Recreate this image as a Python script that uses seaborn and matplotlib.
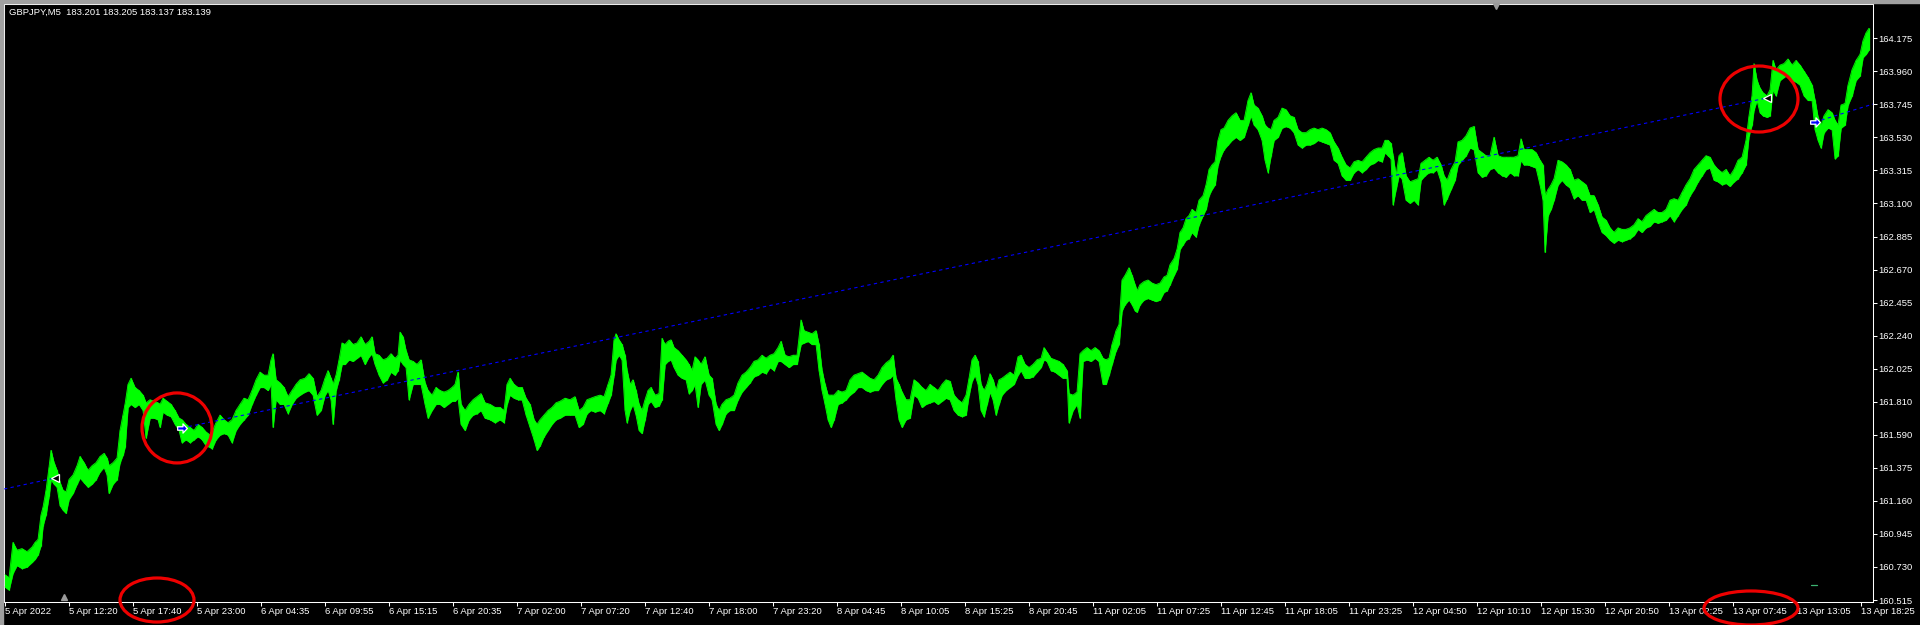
import numpy as np
import matplotlib
matplotlib.use('Agg')
import matplotlib.pyplot as plt
import seaborn as sns
from matplotlib.patches import Ellipse, Rectangle
from matplotlib.lines import Line2D
from matplotlib.path import Path

# --- data (bar index = 5-minute bar, prices GBPJPY) ---
bar_idx = [
    0, 4, 8, 12, 17, 22, 27, 30, 33, 36,
    38, 41, 44, 46, 49, 52, 55, 58, 61, 64,
    68, 72, 75, 79, 83, 87, 91, 95, 99, 102,
    104, 108, 112, 115, 118, 120, 123, 126, 130, 134,
    138, 141, 145, 149, 153, 155, 158, 162, 166, 170,
    174, 177, 181, 185, 189, 193, 197, 201, 205, 207,
    211, 215, 219, 223, 227, 231, 235, 239, 243, 247,
    251, 255, 259, 263, 266, 268, 271, 275, 279, 283,
    287, 291, 295, 300, 304, 308, 312, 316, 320, 323,
    326, 328, 331, 334, 337, 340, 344, 348, 352, 356,
    360, 364, 367, 370, 374, 378, 382, 386, 390, 393,
    395, 398, 401, 404, 408, 412, 416, 420, 423, 427,
    431, 435, 439, 443, 447, 450, 453, 456, 460, 464,
    468, 472, 476, 480, 485, 490, 495, 499, 502, 505,
    509, 513, 517, 521, 525, 529, 532, 535, 539, 543,
    547, 551, 555, 560, 565, 570, 574, 578, 582, 586,
    590, 595, 599, 603, 606, 609, 611, 614, 617, 620,
    622, 625, 628, 631, 634, 637, 640, 643, 646, 650,
    654, 657, 660, 663, 666, 669, 673, 677, 681, 684,
    687, 690, 693, 696, 700, 704, 707, 711, 714, 717,
    721, 725, 729, 733, 737, 741, 745, 749, 753, 757,
    761, 765, 769, 773, 776, 780, 784, 788, 792, 796,
    799, 803, 807, 811, 814, 817, 820, 823, 826, 829,
    833, 837, 841, 845, 849, 853, 857, 861, 865, 869,
    873, 877, 881, 885, 888, 891, 894, 897, 901, 905,
    909, 913, 917, 921, 925, 929, 933, 937, 941, 945,
    949, 953, 957, 961, 964, 967, 970, 973, 976, 979,
    982, 985, 988, 991, 994, 997, 1001, 1005, 1009, 1013,
    1016, 1020, 1024, 1028, 1032, 1036, 1039, 1042, 1046, 1050,
    1054, 1058, 1062, 1064, 1068, 1072, 1075, 1078, 1082, 1086,
    1090, 1094, 1098, 1101, 1104, 1107, 1111, 1114, 1117, 1120,
    1124, 1127, 1130, 1132, 1135, 1139, 1143, 1147, 1151, 1155,
    1159, 1162, 1165, 1169, 1172, 1175, 1178, 1181, 1184, 1187,
    1191, 1194, 1198, 1201, 1204, 1207, 1210, 1213, 1216, 1219,
    1223, 1227, 1231, 1235, 1239, 1243, 1246, 1249, 1253, 1257,
    1260, 1263, 1266, 1269, 1273, 1277, 1281, 1285, 1289, 1293,
    1297, 1301, 1305, 1309, 1313, 1317, 1321, 1325, 1329, 1333,
    1337, 1341, 1345, 1349, 1353, 1357, 1361, 1365, 1369, 1373,
    1377, 1380, 1383, 1386, 1388, 1391, 1394, 1397, 1401, 1405,
    1409, 1413, 1416, 1420, 1424, 1428, 1432, 1436, 1439, 1442,
    1446, 1450, 1453, 1457, 1461, 1465, 1469, 1473, 1477, 1481,
    1485, 1489, 1493, 1497, 1501, 1505, 1509, 1513, 1516, 1519,
    1523, 1527, 1531, 1535, 1538, 1540, 1543, 1546, 1549, 1553,
    1557, 1561, 1565, 1569, 1573, 1577, 1581, 1585, 1589, 1593,
    1597, 1601, 1605, 1609, 1613, 1617, 1621, 1625, 1629, 1633,
    1637, 1641, 1645, 1649, 1653, 1657, 1661, 1665, 1669, 1673,
    1677, 1681, 1685, 1689, 1693, 1697, 1701, 1705, 1709, 1713,
    1717, 1721, 1725, 1729, 1733, 1737, 1741, 1744, 1747, 1749,
    1752, 1755, 1758, 1762, 1765, 1768, 1771, 1775, 1779, 1783,
    1787, 1791, 1795, 1799, 1803, 1807, 1810, 1813, 1816, 1819,
    1823, 1827, 1830, 1833, 1836, 1840, 1843, 1847, 1851, 1855,
    1858, 1861, 1864,
]

bar_high = [
    160.68, 160.66, 160.89, 160.84, 160.85, 160.83, 160.86, 160.89, 160.91, 161.07,
    161.12, 161.23, 161.38, 161.49, 161.41, 161.36, 161.28, 161.23, 161.22, 161.30,
    161.33, 161.39, 161.45, 161.41, 161.36, 161.39, 161.41, 161.45, 161.47, 161.44,
    161.39, 161.41, 161.44, 161.62, 161.72, 161.79, 161.92, 161.96, 161.90, 161.88,
    161.85, 161.80, 161.82, 161.81, 161.80, 161.79, 161.83, 161.81, 161.79, 161.75,
    161.70, 161.69, 161.66, 161.64, 161.62, 161.66, 161.64, 161.61, 161.59, 161.61,
    161.67, 161.72, 161.69, 161.67, 161.69, 161.75, 161.79, 161.83, 161.82, 161.88,
    161.95, 162.00, 161.98, 161.98, 162.08, 162.12, 161.95, 161.93, 161.90, 161.84,
    161.88, 161.92, 161.95, 161.96, 161.99, 161.96, 161.84, 161.88, 161.96, 162.01,
    161.96, 161.92, 161.98, 162.08, 162.19, 162.18, 162.21, 162.18, 162.19, 162.23,
    162.18, 162.20, 162.23, 162.12, 162.11, 162.08, 162.09, 162.12, 162.09, 162.11,
    162.26, 162.23, 162.14, 162.08, 162.07, 162.05, 162.08, 161.93, 161.88, 161.85,
    161.90, 161.88, 161.87, 161.88, 161.90, 161.92, 162.00, 161.79, 161.75, 161.79,
    161.82, 161.84, 161.86, 161.80, 161.79, 161.77, 161.77, 161.75, 161.92, 161.96,
    161.92, 161.90, 161.90, 161.83, 161.79, 161.69, 161.66, 161.69, 161.72, 161.75,
    161.77, 161.80, 161.81, 161.83, 161.82, 161.84, 161.75, 161.77, 161.82, 161.83,
    161.84, 161.85, 161.84, 161.92, 161.98, 162.21, 162.25, 162.21, 162.18, 162.11,
    162.01, 161.92, 161.95, 161.88, 161.79, 161.75, 161.82, 161.88, 161.90, 161.85,
    161.86, 162.22, 162.18, 162.20, 162.21, 162.16, 162.14, 162.11, 162.08, 162.05,
    162.01, 162.10, 162.08, 162.05, 162.10, 161.98, 161.96, 161.79, 161.75, 161.79,
    161.82, 161.83, 161.85, 161.93, 161.98, 162.00, 162.03, 162.07, 162.08, 162.11,
    162.09, 162.11, 162.12, 162.16, 162.20, 162.11, 162.10, 162.11, 162.11, 162.34,
    162.27, 162.26, 162.25, 162.27, 162.18, 162.01, 161.92, 161.85, 161.85, 161.85,
    161.88, 161.87, 161.88, 161.95, 161.98, 161.99, 162.00, 161.98, 161.96, 161.95,
    161.98, 162.03, 162.06, 162.08, 162.11, 161.96, 161.92, 161.87, 161.82, 161.82,
    161.95, 161.93, 161.90, 161.88, 161.92, 161.90, 161.88, 161.92, 161.95, 161.94,
    161.85, 161.82, 161.80, 161.85, 161.96, 162.08, 162.11, 162.07, 161.92, 161.88,
    161.92, 161.99, 161.95, 161.88, 161.95, 161.96, 161.98, 162.00, 161.98, 162.10,
    162.11, 162.05, 162.03, 162.05, 162.08, 162.09, 162.16, 162.13, 162.09, 162.08,
    162.07, 162.05, 162.01, 161.86, 161.85, 161.87, 162.12, 162.14, 162.16, 162.14,
    162.16, 162.14, 162.09, 162.08, 162.09, 162.18, 162.27, 162.31, 162.60, 162.63,
    162.68, 162.63, 162.57, 162.53, 162.57, 162.59, 162.60, 162.58, 162.57, 162.58,
    162.62, 162.63, 162.70, 162.74, 162.80, 162.91, 162.94, 163.00, 163.02, 163.06,
    163.04, 163.12, 163.15, 163.22, 163.32, 163.35, 163.37, 163.51, 163.58, 163.59,
    163.64, 163.67, 163.69, 163.64, 163.64, 163.77, 163.82, 163.74, 163.72, 163.67,
    163.61, 163.59, 163.58, 163.64, 163.66, 163.72, 163.71, 163.67, 163.66, 163.58,
    163.56, 163.56, 163.58, 163.59, 163.58, 163.59, 163.58, 163.56, 163.50, 163.46,
    163.40, 163.35, 163.33, 163.37, 163.38, 163.37, 163.40, 163.43, 163.45, 163.46,
    163.46, 163.51, 163.51, 163.49, 163.41, 163.28, 163.41, 163.43, 163.28, 163.24,
    163.25, 163.26, 163.36, 163.38, 163.40, 163.38, 163.40, 163.35, 163.28, 163.25,
    163.32, 163.37, 163.50, 163.51, 163.54, 163.59, 163.60, 163.45, 163.43, 163.41,
    163.41, 163.53, 163.41, 163.40, 163.40, 163.40, 163.40, 163.41, 163.52, 163.45,
    163.45, 163.45, 163.43, 163.38, 163.35, 163.15, 163.19, 163.22, 163.26, 163.38,
    163.37, 163.35, 163.32, 163.25, 163.26, 163.24, 163.22, 163.15, 163.15, 163.09,
    163.01, 162.99, 162.94, 162.91, 162.94, 162.93, 162.93, 162.94, 162.96, 163.00,
    162.98, 163.02, 163.04, 163.06, 163.04, 163.04, 163.06, 163.12, 163.13, 163.12,
    163.17, 163.22, 163.26, 163.32, 163.35, 163.38, 163.41, 163.40, 163.35, 163.32,
    163.30, 163.32, 163.28, 163.32, 163.38, 163.40, 163.51, 163.67, 163.80, 164.01,
    163.90, 163.85, 163.82, 163.80, 163.84, 164.03, 163.97, 164.00, 164.01, 164.04,
    164.00, 164.03, 164.00, 163.96, 163.92, 163.87, 163.77, 163.66, 163.61, 163.67,
    163.71, 163.69, 163.64, 163.61, 163.74, 163.75, 163.87, 163.97, 164.03, 164.07,
    164.16, 164.21, 164.24,
]

bar_low = [
    160.60, 160.58, 160.69, 160.74, 160.72, 160.73, 160.76, 160.78, 160.81, 160.87,
    161.00, 161.07, 161.19, 161.30, 161.27, 161.25, 161.13, 161.10, 161.08, 161.17,
    161.21, 161.27, 161.31, 161.28, 161.25, 161.27, 161.30, 161.35, 161.38, 161.33,
    161.21, 161.27, 161.30, 161.41, 161.46, 161.51, 161.77, 161.79, 161.77, 161.79,
    161.75, 161.57, 161.70, 161.70, 161.69, 161.64, 161.74, 161.72, 161.71, 161.66,
    161.62, 161.54, 161.56, 161.54, 161.56, 161.58, 161.56, 161.52, 161.51, 161.50,
    161.56, 161.59, 161.60, 161.59, 161.54, 161.62, 161.66, 161.69, 161.72, 161.79,
    161.85, 161.90, 161.90, 161.88, 161.92, 161.64, 161.82, 161.79, 161.79, 161.73,
    161.79, 161.83, 161.85, 161.87, 161.88, 161.85, 161.72, 161.75, 161.85, 161.88,
    161.82, 161.66, 161.88, 161.95, 162.05, 162.05, 162.08, 162.07, 162.09, 162.11,
    162.05, 162.10, 162.12, 162.05, 161.98, 161.93, 161.95, 162.00, 161.98, 162.01,
    162.08, 162.05, 162.03, 161.82, 161.92, 161.92, 161.92, 161.79, 161.70, 161.75,
    161.79, 161.79, 161.77, 161.79, 161.81, 161.81, 161.83, 161.66, 161.62, 161.69,
    161.72, 161.73, 161.75, 161.70, 161.69, 161.67, 161.69, 161.67, 161.79, 161.85,
    161.83, 161.82, 161.82, 161.72, 161.64, 161.56, 161.49, 161.52, 161.58, 161.62,
    161.66, 161.69, 161.70, 161.72, 161.72, 161.72, 161.64, 161.66, 161.73, 161.75,
    161.74, 161.75, 161.73, 161.80, 161.85, 161.98, 162.08, 162.11, 162.08, 161.75,
    161.67, 161.75, 161.79, 161.72, 161.62, 161.60, 161.69, 161.79, 161.81, 161.77,
    161.78, 161.82, 162.05, 162.07, 162.08, 162.03, 161.98, 161.96, 161.95, 161.86,
    161.88, 161.92, 161.77, 161.92, 161.95, 161.85, 161.82, 161.66, 161.62, 161.66,
    161.73, 161.75, 161.75, 161.82, 161.87, 161.90, 161.93, 161.97, 161.98, 162.00,
    161.99, 162.03, 162.01, 162.07, 162.07, 162.05, 162.03, 162.05, 162.05, 162.18,
    162.19, 162.20, 162.18, 162.18, 162.01, 161.88, 161.79, 161.69, 161.64, 161.69,
    161.79, 161.80, 161.82, 161.85, 161.87, 161.90, 161.90, 161.88, 161.87, 161.88,
    161.88, 161.92, 161.95, 161.96, 161.98, 161.82, 161.69, 161.64, 161.69, 161.70,
    161.85, 161.83, 161.77, 161.79, 161.80, 161.81, 161.79, 161.81, 161.83, 161.82,
    161.75, 161.72, 161.71, 161.72, 161.85, 161.94, 161.98, 161.92, 161.75, 161.71,
    161.79, 161.87, 161.82, 161.72, 161.79, 161.85, 161.88, 161.90, 161.92, 161.98,
    162.01, 161.96, 161.96, 161.97, 162.00, 162.03, 162.08, 162.07, 162.01, 162.00,
    161.98, 161.96, 161.96, 161.67, 161.75, 161.79, 161.70, 162.07, 162.08, 162.07,
    162.09, 162.07, 161.92, 161.92, 161.98, 162.05, 162.14, 162.18, 162.40, 162.44,
    162.47, 162.44, 162.40, 162.39, 162.44, 162.47, 162.48, 162.47, 162.46, 162.47,
    162.52, 162.53, 162.57, 162.63, 162.67, 162.80, 162.83, 162.86, 162.87, 162.91,
    162.88, 162.96, 163.02, 163.06, 163.15, 163.19, 163.22, 163.35, 163.41, 163.45,
    163.48, 163.51, 163.53, 163.51, 163.53, 163.61, 163.67, 163.61, 163.58, 163.51,
    163.38, 163.30, 163.41, 163.51, 163.53, 163.59, 163.60, 163.59, 163.56, 163.48,
    163.46, 163.48, 163.48, 163.49, 163.51, 163.50, 163.49, 163.48, 163.38, 163.36,
    163.28, 163.25, 163.25, 163.30, 163.32, 163.30, 163.32, 163.35, 163.36, 163.38,
    163.37, 163.43, 163.41, 163.39, 163.09, 163.19, 163.28, 163.26, 163.12, 163.10,
    163.12, 163.09, 163.25, 163.28, 163.30, 163.30, 163.32, 163.24, 163.09, 163.13,
    163.19, 163.25, 163.35, 163.38, 163.41, 163.46, 163.45, 163.30, 163.27, 163.28,
    163.32, 163.33, 163.30, 163.28, 163.27, 163.30, 163.28, 163.28, 163.38, 163.35,
    163.35, 163.34, 163.33, 163.22, 163.12, 162.78, 163.02, 163.06, 163.12, 163.22,
    163.25, 163.22, 163.20, 163.13, 163.15, 163.12, 163.12, 163.04, 163.06, 162.98,
    162.91, 162.89, 162.86, 162.84, 162.86, 162.85, 162.86, 162.87, 162.89, 162.93,
    162.91, 162.94, 162.95, 162.98, 162.97, 162.98, 162.99, 163.02, 162.98, 163.02,
    163.06, 163.09, 163.15, 163.19, 163.24, 163.28, 163.32, 163.33, 163.25, 163.24,
    163.22, 163.23, 163.21, 163.24, 163.26, 163.30, 163.35, 163.54, 163.61, 163.71,
    163.77, 163.69, 163.67, 163.66, 163.67, 163.84, 163.80, 163.90, 163.92, 163.94,
    163.90, 163.89, 163.87, 163.80, 163.77, 163.77, 163.58, 163.51, 163.46, 163.56,
    163.59, 163.58, 163.39, 163.41, 163.59, 163.61, 163.74, 163.80, 163.90, 163.93,
    164.05, 164.07, 164.10,
]

# trade lines (bar index, price) and their arrow markers
trade_lines = [
    ([-1, 50], [161.238, 161.310]),
    ([177, 1762], [161.636, 163.786]),
    ([1810, 1868], [163.629, 163.746]),
]
open_marks_x = [50, 1762]
open_marks_y = [161.310, 163.786]
close_marks_x = [177, 1810]
close_marks_y = [161.636, 163.629]

x_labels = ['5 Apr 2022', '5 Apr 12:20', '5 Apr 17:40', '5 Apr 23:00', '6 Apr 04:35',
            '6 Apr 09:55', '6 Apr 15:15', '6 Apr 20:35', '7 Apr 02:00', '7 Apr 07:20',
            '7 Apr 12:40', '7 Apr 18:00', '7 Apr 23:20', '8 Apr 04:45', '8 Apr 10:05',
            '8 Apr 15:25', '8 Apr 20:45', '11 Apr 02:05', '11 Apr 07:25', '11 Apr 12:45',
            '11 Apr 18:05', '11 Apr 23:25', '12 Apr 04:50', '12 Apr 10:10', '12 Apr 15:30',
            '12 Apr 20:50', '13 Apr 02:25', '13 Apr 07:45', '13 Apr 13:05', '13 Apr 18:25']
x_label_bars = [64 * k for k in range(len(x_labels))]

y_labels = ['160.515', '160.730', '160.945', '161.160', '161.375', '161.590',
            '161.810', '162.025', '162.240', '162.455', '162.670', '162.885',
            '163.100', '163.315', '163.530', '163.745', '163.960', '164.175']

header = 'GBPJPY,M5  183.201 183.205 183.137 183.139'

# --- plotting ---
sns.set_theme(style='dark')
plt.rcParams['font.family'] = ['Liberation Sans', 'DejaVu Sans']

W, H = 1920, 625
fig = plt.figure(figsize=(W / 100, H / 100), dpi=100, facecolor='black')
ax = fig.add_axes([4 / W, 23 / H, 1869 / W, 598 / H])
ax.set_facecolor('black')
ax.grid(False)

green = '#00ff00'
ax.fill_between(bar_idx, bar_low, bar_high, color=green, lw=0.3, zorder=3)
sns.lineplot(x=bar_idx, y=bar_high, ax=ax, color=green, lw=0.6, estimator=None, sort=False, zorder=3)
sns.lineplot(x=bar_idx, y=bar_low, ax=ax, color=green, lw=0.6, estimator=None, sort=False, zorder=3)
ax.vlines(bar_idx, bar_low, bar_high, color=green, lw=0.9, zorder=3)

for xs, ys in trade_lines:
    ax.plot(xs, ys, color='#0000ff', lw=0.8, ls=(0, (3, 3)), zorder=4)

ax.plot(open_marks_x, open_marks_y, ls='none', marker='<', ms=6, mfc='black',
        mec='white', mew=0.9, zorder=5)
arrow = Path([(-1, -0.35), (0.1, -0.35), (0.1, -0.95), (1, 0), (0.1, 0.95),
              (0.1, 0.35), (-1, 0.35), (-1, -0.35)],
             [Path.MOVETO] + [Path.LINETO] * 6 + [Path.CLOSEPOLY])
ax.plot(close_marks_x, close_marks_y, ls='none', marker=arrow, ms=7, mfc='#0000ff',
        mec='white', mew=0.9, zorder=5)

# small marker near the bottom right
ax.plot([1806, 1812], [160.613, 160.613], color='#3cb371', lw=0.9, zorder=4)

# axes / ticks
ppx = 0.215 / 33  # price per pixel
ax.set_xlim(-1, 1868)
ax.set_ylim(160.515 - 2 * ppx, 160.515 + 596 * ppx)
ax.set_xticks(x_label_bars)
ax.set_xticklabels(x_labels, ha='left')
ax.yaxis.tick_right()
ax.set_yticks(np.linspace(160.515, 164.175, len(y_labels)))
ax.set_yticklabels(y_labels)
ax.tick_params(axis='x', colors='white', direction='out', length=2.6, width=0.75,
               pad=1.2, labelsize=6.8, bottom=True)
ax.tick_params(axis='y', colors='white', direction='out', length=2.6, width=0.75,
               pad=1.5, labelsize=6.8, right=True, left=False)
for sp in ax.spines.values():
    sp.set_color('white')
    sp.set_linewidth(0.75)
    sp.set_visible(True)

# red hand-drawn ellipses
red = '#ee0000'
ells = [
    ((172, 161.636), 70, 70 * ppx),
    ((1754, 163.779), 78, 66 * ppx),
    ((152, 160.515), 74, 44 * ppx),
    ((1746, 160.463), 94, 34 * ppx),
]
for c, w, h in ells:
    ax.add_patch(Ellipse(c, w, h, fill=False, ec=red, lw=2.3, clip_on=False, zorder=10))

# header text
fig.text(9 / W, 1 - 8 / H, header, color='white', fontsize=6.8, va='top', ha='left')

# grey window frame and small grey triangles
grey = '#a0a0a0'
fig.patches.append(Rectangle((0, 1 - 3 / H), 1, 3 / H, transform=fig.transFigure,
                             color=grey, zorder=0))
fig.patches.append(Rectangle((0, 0), 3 / W, 1, transform=fig.transFigure,
                             color=grey, zorder=0))
fig.add_artist(Line2D([1496 / W], [1 - 6 / H], marker='v', ms=5, color='#9a9a9a',
                      transform=fig.transFigure))
fig.add_artist(Line2D([64 / W], [1 - 597 / H], marker='^', ms=5, color='#9a9a9a',
                      transform=fig.transFigure))

fig.savefig('out.png', dpi=100, facecolor='black')
